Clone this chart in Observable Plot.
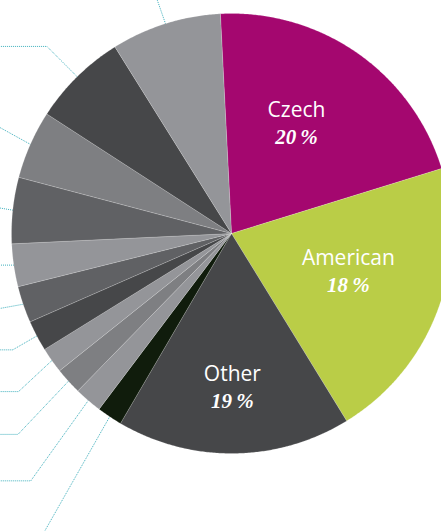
<!DOCTYPE html>
<html><head><meta charset="utf-8">
<script src="https://cdn.jsdelivr.net/npm/d3@7"></script>
<script src="https://cdn.jsdelivr.net/npm/@observablehq/plot@0.6"></script>
<style>html,body{margin:0;padding:0;background:#fff;overflow:hidden;width:441px;height:531px}</style>
</head><body><div id="chart"></div>
<script>
const categories = ["Czech","American","Other","Group 1","Group 2","Group 3","Group 4","Group 5","Group 6","Group 7","Group 8","Group 9","Group 10","Group 11"];
const shares = [21.03, 21.0, 17.19, 1.86, 2.03, 1.97, 1.89, 2.25, 2.69, 3.14, 4.86, 5.03, 6.97, 8.08];
const labelNames = ["Czech","American","Other"];
const labelPercents = ["20\u2009%","18\u2009%","19\u2009%"];

// ---- styles / layout
const colors = ["#a4076f","#bacd47","#464749","#101c0c","#949599","#7e7f82","#949599","#464749","#606164","#949599","#606164","#7e7f82","#464749","#949599"];
const W = 441, H = 531, R = 220, CX = 231, CY = 233;
const startDeg = -2.9;
const labelRadius = [0.577, 0.56, 0.702];
const labelShift = [-4.15, -2.2, 0.3];
const leaderDir = [null,null,null,209.6,215.6,223.5,227,240,259.7,270,279.5,298.9,315,340.8];
const leaderLen = [0,0,0,160,101,75.5,47.8,30,60,40,40,60,45,80];
const leaderTurn = [false,false,false,false,true,true,true,true,false,false,false,false,true,false];

const rad = d => d * Math.PI / 180;
const total = d3.sum(shares);
let acc = startDeg;
const arcs = shares.map((s, i) => {
  const a0 = acc, a1 = acc + s / total * 360; acc = a1;
  return {cat: categories[i], i, a0, a1, mid: (a0 + a1) / 2};
});
const pt = (deg, r) => ({x: r * Math.sin(rad(deg)), y: r * Math.cos(rad(deg))});

const polys = [];
for (const a of arcs) {
  polys.push({cat: a.cat, x: 0, y: 0});
  const n = Math.max(4, Math.ceil((a.a1 - a.a0) / 0.4));
  for (let k = 0; k <= n; k++) {
    const p = pt(a.a0 + (a.a1 - a.a0) * k / n, 1);
    polys.push({cat: a.cat, ...p});
  }
  polys.push({cat: a.cat, x: 0, y: 0});
}

const leaders = [];
for (const a of arcs) {
  if (leaderDir[a.i] == null) continue;
  const p0 = pt(a.mid, 0.99);
  const L = leaderLen[a.i] / R;
  const e = {x: p0.x + L * Math.sin(rad(leaderDir[a.i])), y: p0.y + L * Math.cos(rad(leaderDir[a.i]))};
  leaders.push({k: a.cat, ...p0}, {k: a.cat, ...e});
  if (leaderTurn[a.i]) leaders.push({k: a.cat, x: -2, y: e.y});
}

const labels = labelNames.map((name, i) => {
  const p = pt(arcs[i].mid + labelShift[i], labelRadius[i]);
  return {name, pct: labelPercents[i], ...p};
});

const chart = Plot.plot({
  width: W, height: H, margin: 0,
  style: {background: "#fff", overflow: "hidden"},
  x: {domain: [-CX / R, (W - CX) / R], range: [0, W], axis: null},
  y: {domain: [-(H - CY) / R, CY / R], range: [H, 0], axis: null},
  color: {domain: categories, range: colors},
  marks: [
    Plot.line(leaders, {x: "x", y: "y", z: "k", stroke: "#3fb0bd", strokeWidth: 1, strokeDasharray: "1,1", strokeLinecap: "butt", curve: "linear"}),
    Plot.line(polys, {x: "x", y: "y", z: "cat", fill: "cat", stroke: "#ffffff", strokeWidth: 0.5, strokeOpacity: 0.35, strokeLinejoin: "miter"}),
    Plot.text(labels, {x: "x", y: "y", text: "name", dy: -14, fill: "#fff", fontSize: 21, fontFamily: "'Open Sans', sans-serif", fontWeight: 500, letterSpacing: "1.1px"}),
    Plot.text(labels, {x: "x", y: "y", text: "pct", dy: 13, fill: "#fff", fontSize: 21, fontFamily: "'Liberation Serif', serif", fontWeight: "bold", fontStyle: "italic"})
  ]
});
document.getElementById("chart").append(chart);
</script>
</body></html>
